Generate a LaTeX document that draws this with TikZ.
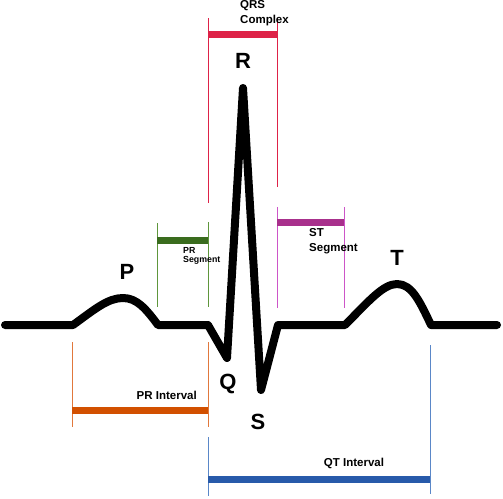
\documentclass[tikz,border=0pt]{standalone}
\usepackage{fontspec}
\setmainfont{Liberation Sans}
\definecolor{qrsred}{RGB}{222,34,72}
\definecolor{prgreen}{RGB}{58,108,30}
\definecolor{prgreenl}{RGB}{95,150,60}
\definecolor{stmag}{RGB}{168,48,140}
\definecolor{stmagl}{RGB}{205,85,200}
\definecolor{prorange}{RGB}{210,80,0}
\definecolor{prorangel}{RGB}{225,120,60}
\definecolor{qtblue}{RGB}{40,90,170}
\definecolor{qtbluel}{RGB}{90,135,200}
\tikzset{
  wave/.style={line width=8pt, line cap=round, line join=round, black},
  tick/.style={line width=1pt},
  bar/.style={line width=7pt},
  biglbl/.style={font=\fontsize{22}{22}\selectfont\bfseries, inner sep=0pt},
  lbl/.style={font=\fontsize{11.5}{15.5}\selectfont\bfseries, inner sep=0pt, align=left},
  smlbl/.style={font=\fontsize{8.8}{9.5}\selectfont\bfseries, inner sep=0pt, align=left}
}
\begin{document}
\begin{tikzpicture}[x=1pt,y=-1pt]
\useasboundingbox (0,0) rectangle (503,498);
% ECG wave
\draw[wave] (5,325) -- (73,325)
  .. controls (95,309) and (108,298) .. (123,298)
  .. controls (137,298) and (146,309) .. (158,325)
  -- (208,325) -- (227,358) -- (243,88) -- (261,390) -- (278,325)
  -- (345,325)
  .. controls (368,302) and (383,284) .. (397,284)
  .. controls (412,284) and (420,302) .. (431,325)
  -- (497,325);
% QRS complex
\draw[tick, qrsred] (208,18) -- (208,203);
\draw[tick, qrsred] (277,18) -- (277,187);
\draw[bar, qrsred] (208,34) -- (277,34);
\node[lbl, anchor=north west] (qrs) at (240,0) {QRS\\Complex};
% PR segment
\draw[tick, prgreenl] (157,223) -- (157,307);
\draw[tick, prgreenl] (208,222) -- (208,307);
\draw[bar, prgreen] (157,240) -- (208,240);
\node[smlbl, anchor=north west] (prs) at (183,247) {PR\\Segment};
% ST segment
\draw[tick, stmagl] (277,207) -- (277,308);
\draw[tick, stmagl] (344,207) -- (344,308);
\draw[bar, stmag] (277,222) -- (344,222);
\node[lbl, anchor=north west] (sts) at (309,228) {ST\\Segment};
% PR interval
\draw[tick, prorangel] (72,342) -- (72,427);
\draw[tick, prorangel] (208,342) -- (208,427);
\draw[bar, prorange] (72,410) -- (208,410);
\node[lbl, anchor=east] (pri) at (197,395) {PR Interval};
% QT interval
\draw[tick, qtbluel] (208,437) -- (208,496);
\draw[tick, qtbluel] (430,345) -- (430,494);
\draw[bar, qtblue] (208,479) -- (430,479);
\node[lbl] (qti) at (354,463) {QT Interval};
% wave labels
\node[biglbl] (P) at (127,272) {P};
\node[biglbl] (R) at (243,61) {R};
\node[biglbl] (Q) at (228,384) {Q};
\node[biglbl] (S) at (258,422) {S};
\node[biglbl] (T) at (397,258) {T};
\end{tikzpicture}
\end{document}
